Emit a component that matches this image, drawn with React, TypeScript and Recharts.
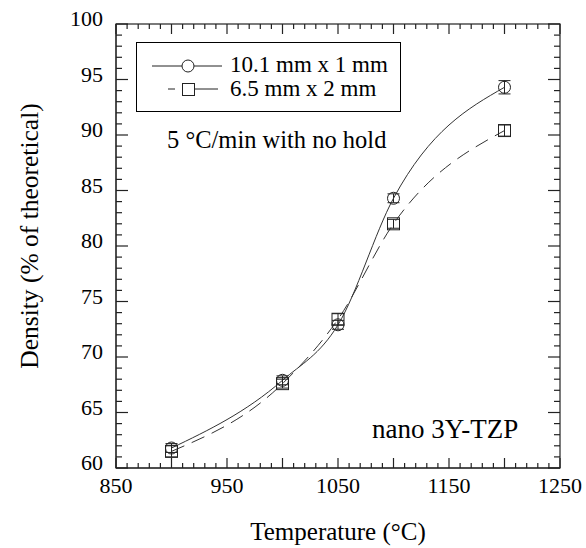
import React from "react";
import { ErrorBar, Label, Line, LineChart, XAxis, YAxis } from "recharts";

// sintering temperature (°C)
const temps = [900, 1000, 1050, 1100, 1200];
// density, % of theoretical
const disc10x1 = [61.8, 67.9, 72.9, 84.3, 94.3];
const disc10x1Err = [0.4, 0.4, 0.4, 0.4, 0.6];
const disc65x2 = [61.5, 67.6, 73.4, 82.0, 90.4];
const disc65x2Err = [0.5, 0.4, 0.5, 0.4, 0.5];

const xLabels = [850, 950, 1050, 1150, 1250];
const yLabels = [60, 65, 70, 75, 80, 85, 90, 95, 100];

const xTicks: number[] = [];
for (let v = 850; v <= 1250; v += 10) xTicks.push(v);
const yTicks: number[] = [];
for (let v = 60; v <= 100; v += 1) yTicks.push(v);

const X0 = 850;
const X1 = 1250;
const Y0 = 60;
const Y1 = 100;

const data = temps.map((t, i) => ({
  t,
  a: disc10x1[i],
  aErr: disc10x1Err[i],
  b: disc65x2[i],
  bErr: disc65x2Err[i],
}));

const W = 586;
const H = 548;
const margin = { top: 24, right: 26, bottom: 40, left: 56 };
const Y_AXIS_W = 60;
const X_AXIS_H = 40;
const PL = margin.left + Y_AXIS_W;
const PT = margin.top;
const PW = W - margin.left - margin.right - Y_AXIS_W;
const PH = H - margin.top - margin.bottom - X_AXIS_H;
const PB = PT + PH;
const PR = PL + PW;

// frame tick positions, same linear mapping as the chart's plot box
const fx = (v: number) => PL + ((v - X0) / (X1 - X0)) * PW;
const fy = (v: number) => PB - ((v - Y0) / (Y1 - Y0)) * PH;

const FONT = "Liberation Serif, Times New Roman, serif";
const INK = "#222";

const xTick = (p: any) => {
  const v = Number(p.payload.value);
  if (!xLabels.includes(v)) return <g />;
  return (
    <text x={p.x} y={p.y + 25} textAnchor="middle" fontFamily={FONT} fontSize={22} fill="#000">
      {v}
    </text>
  );
};

const yTick = (p: any) => {
  const v = Number(p.payload.value);
  if (!yLabels.includes(v)) return <g />;
  return (
    <text x={p.x - 13} y={p.y + 2} textAnchor="end" fontFamily={FONT} fontSize={22} fill="#000">
      {v}
    </text>
  );
};

const CircleDot = (props: any) => {
  const { cx, cy } = props;
  if (cx == null || cy == null) return null;
  return <circle cx={cx} cy={cy} r={6} fill="none" stroke={INK} strokeWidth={1} />;
};

const SquareDot = (props: any) => {
  const { cx, cy } = props;
  if (cx == null || cy == null) return null;
  return <rect x={cx - 6} y={cy - 6} width={12} height={12} fill="none" stroke={INK} strokeWidth={1} />;
};

const txt = (size: number): React.CSSProperties => ({ fontFamily: FONT, fontSize: size });

export default function App() {
  return (
    <div style={{ position: "absolute", left: 0, top: 0, width: W, height: H, background: "#fff" }}>
      <LineChart width={W} height={H} data={data} margin={margin}>
        <XAxis
          dataKey="t"
          type="number"
          domain={[X0, X1]}
          ticks={xTicks}
          interval={0}
          tickSize={0}
          tickMargin={0}
          tickLine={false}
          tick={xTick}
          axisLine={{ stroke: INK }}
          height={X_AXIS_H}
        >
          <Label
            content={() => (
              <text x={338} y={540} textAnchor="middle" style={txt(25)} fill="#000">
                Temperature (°C)
              </text>
            )}
          />
        </XAxis>
        <YAxis
          type="number"
          domain={[Y0, Y1]}
          ticks={yTicks}
          interval={0}
          tickSize={0}
          tickMargin={0}
          tickLine={false}
          tick={yTick}
          axisLine={{ stroke: INK }}
          width={Y_AXIS_W}
        >
          <Label
            content={() => (
              <text
                x={32}
                y={236}
                transform="rotate(-90 32 236)"
                textAnchor="middle"
                dominantBaseline="middle"
                style={txt(25.5)}
                fill="#000"
              >
                Density (% of theoretical)
              </text>
            )}
          />
        </YAxis>
        <Line
          type="monotone"
          dataKey="a"
          stroke="#333"
          strokeWidth={1}
          dot={<CircleDot />}
          activeDot={false}
          isAnimationActive={false}
        >
          <ErrorBar dataKey="aErr" width={6} stroke={INK} strokeWidth={1} />
        </Line>
        <Line
          type="monotone"
          dataKey="b"
          stroke="#333"
          strokeWidth={1}
          strokeDasharray="14 8"
          dot={<SquareDot />}
          activeDot={false}
          isAnimationActive={false}
        >
          <ErrorBar dataKey="bErr" width={6} stroke={INK} strokeWidth={1} />
        </Line>
      </LineChart>

      <svg width={W} height={H} style={{ position: "absolute", left: 0, top: 0, pointerEvents: "none" }}>
        {/* frame and inward ticks on all four sides */}
        <rect x={PL} y={PT} width={PW} height={PH} fill="none" stroke={INK} strokeWidth={1.2} />
        {xTicks.map((v) => {
          const len = v % 50 === 0 ? 10 : 5;
          const x = fx(v);
          return (
            <g key={`x${v}`}>
              <line x1={x} x2={x} y1={PB} y2={PB - len} stroke={INK} strokeWidth={1.2} />
              <line x1={x} x2={x} y1={PT} y2={PT + len} stroke={INK} strokeWidth={1.2} />
            </g>
          );
        })}
        {yTicks.map((v) => {
          const len = v % 5 === 0 ? 12 : 6;
          const y = fy(v);
          return (
            <g key={`y${v}`}>
              <line x1={PL} x2={PL + len} y1={y} y2={y} stroke={INK} strokeWidth={1.2} />
              <line x1={PR} x2={PR - len} y1={y} y2={y} stroke={INK} strokeWidth={1.2} />
            </g>
          );
        })}

        {/* legend and notes */}
        <rect x={136.5} y={42.5} width={264} height={69} fill="#fff" stroke="#000" />
        <line x1={152} x2={222} y1={66} y2={66} stroke={INK} />
        <circle cx={188} cy={66} r={6} fill="#fff" stroke={INK} />
        <line x1={168} x2={175} y1={89} y2={89} stroke={INK} />
        <line x1={194} x2={218} y1={89} y2={89} stroke={INK} />
        <rect x={182.5} y={83.5} width={12} height={12} fill="#fff" stroke={INK} />
        <text x={230} y={72} style={txt(23)} fill="#000">10.1 mm x 1 mm</text>
        <text x={230} y={96} style={txt(23)} fill="#000">6.5 mm x 2 mm</text>
        <text x={167} y={148} style={txt(24.5)} fill="#000">5 °C/min with no hold</text>
        <text x={372} y={438} style={txt(27)} fill="#000">nano 3Y-TZP</text>
      </svg>
    </div>
  );
}
